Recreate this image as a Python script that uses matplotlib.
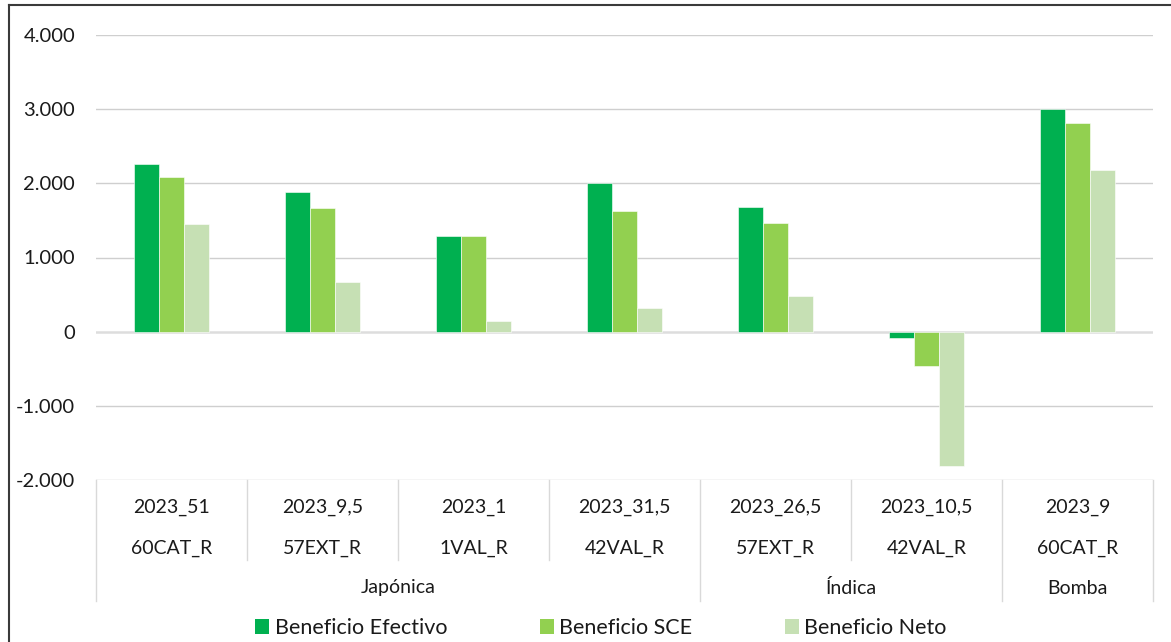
import numpy as np
import matplotlib
matplotlib.use('Agg')
import matplotlib.pyplot as plt
from matplotlib.lines import Line2D
from matplotlib.patches import Patch

plt.rcParams['font.family'] = ['Lato', 'DejaVu Sans']

# Data
fechas = ['2023_51', '2023_9,5', '2023_1', '2023_31,5', '2023_26,5', '2023_10,5', '2023_9']
variedades = ['60CAT_R', '57EXT_R', '1VAL_R', '42VAL_R', '57EXT_R', '42VAL_R', '60CAT_R']
grupos = ['Japónica', 'Índica', 'Bomba']
grupo_n = [4, 2, 1]

efectivo = [2265, 1885, 1295, 2010, 1680, -90, 3008]
sce = [2090, 1670, 1295, 1630, 1470, -460, 2815]
neto = [1445, 675, 150, 325, 478, -1805, 2175]

series = ['Beneficio Efectivo', 'Beneficio SCE', 'Beneficio Neto']
colores = ['#00B050', '#92D050', '#C6E0B4']
txt = '#1a1a1a'

W, H = 1171, 642
fig = plt.figure(figsize=(W / 100, H / 100), dpi=100)

# axes placed in pixel coordinates of the reference
left, right, top, bottom = 96, 1153, 35, 480
ax = fig.add_axes([left / W, 1 - bottom / H, (right - left) / W, (bottom - top) / H])

x = np.arange(len(fechas))
bw = 0.167
for i, (vals, col, name) in enumerate(zip([efectivo, sce, neto], colores, series)):
    ax.bar(x + (i - 1) * bw, vals, width=bw, color=col, edgecolor='white',
           linewidth=0.4, label=name, zorder=3)

ax.set_xlim(-0.5, len(fechas) - 0.5)
ax.set_ylim(-2000, 4000)
ax.set_yticks(np.arange(-2000, 4001, 1000))
ax.set_yticklabels([f"{int(v):,}".replace(',', '.') for v in ax.get_yticks()])
ax.tick_params(axis='y', length=0, pad=15, labelsize=14.5, labelcolor=txt)
ax.set_xticks([])
for s in ax.spines.values():
    s.set_visible(False)
for v in range(-2000, 4001, 1000):
    if v == 0:
        ax.axhline(v, color='#DDDDDD', lw=1.8, zorder=2)
    else:
        ax.axhline(v, color='#CFCFCF', lw=1.0, zorder=1)


def yfrac(py):
    return (bottom - py) / (bottom - top)


tr = ax.get_xaxis_transform()
line_kw = dict(color='#D9D9D9', lw=1.0, transform=tr, clip_on=False)

# category table under the axis
ends = np.cumsum(grupo_n) - 0.5
for b in np.arange(-0.5, len(fechas)):
    is_group = b == -0.5 or np.any(np.isclose(ends, b))
    y_end = 601 if is_group else 560
    ax.add_line(Line2D([b, b], [0, yfrac(y_end)], **line_kw))

for xi, f, v in zip(x, fechas, variedades):
    ax.text(xi, yfrac(507), f, transform=tr, ha='center', va='center',
            fontsize=14, color=txt)
    ax.text(xi, yfrac(548), v, transform=tr, ha='center', va='center',
            fontsize=14, color=txt)

start = -0.5
for g, n in zip(grupos, grupo_n):
    ax.text(start + n / 2, yfrac(588), g, transform=tr, ha='center', va='center',
            fontsize=14, color=txt)
    start += n

# legend at the bottom
handles = [Patch(facecolor=c, edgecolor='none') for c in colores]
fig.legend(handles, series, loc='center', bbox_to_anchor=(601 / W, 1 - 628 / H),
           ncol=3, frameon=False, fontsize=15.5, handlelength=0.65, handleheight=0.65,
           handletextpad=0.25, columnspacing=4.3, labelcolor=txt)

# chart border (top and left edges visible)
fig.add_artist(Line2D([9 / W, 1], [1 - 5 / H, 1 - 5 / H], color='#3a3a3a', lw=1.5,
                      transform=fig.transFigure))
fig.add_artist(Line2D([9 / W, 9 / W], [0, 1 - 5 / H], color='#3a3a3a', lw=1.5,
                      transform=fig.transFigure))

fig.savefig('out.png', dpi=100)
